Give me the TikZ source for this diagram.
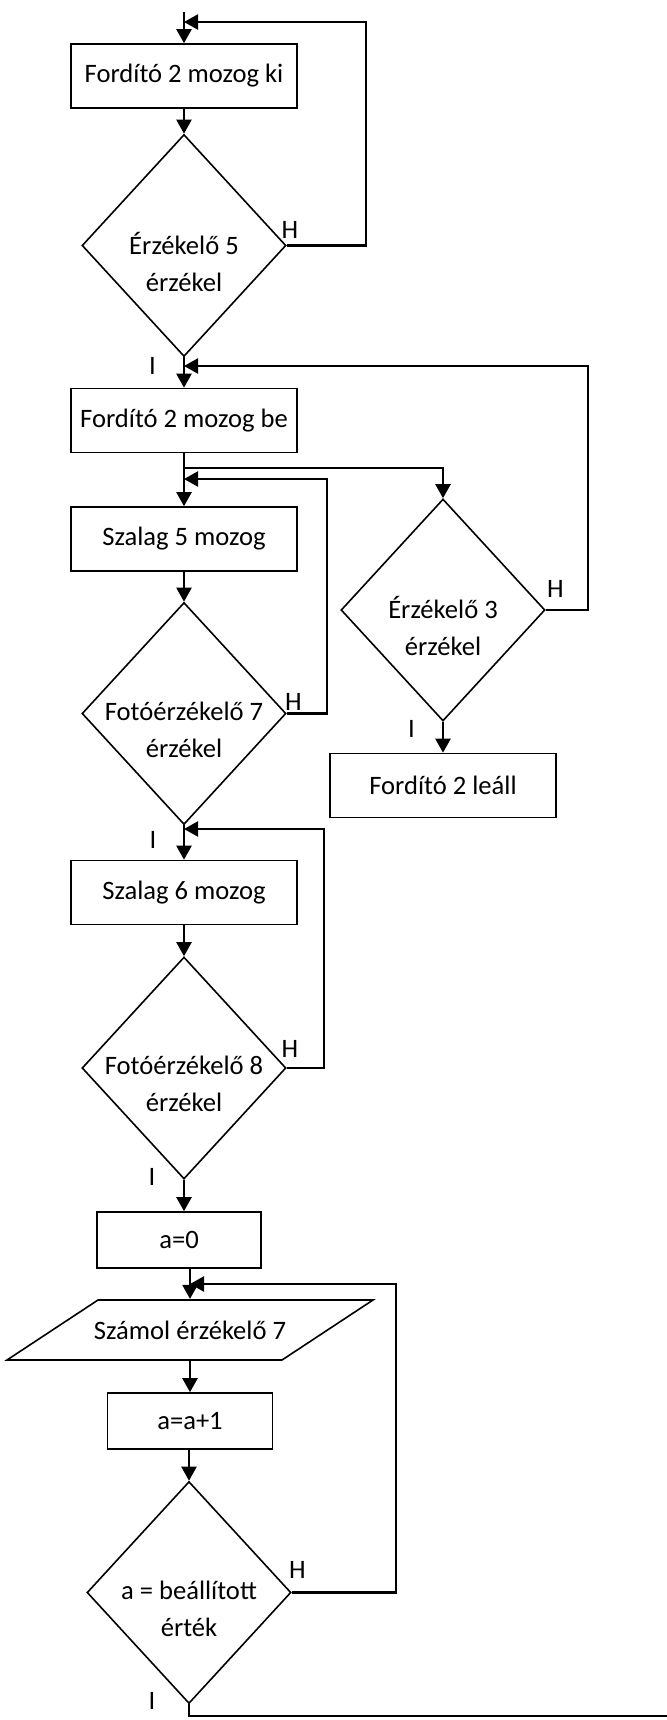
\documentclass[tikz,border=0pt]{standalone}
\usepackage{fontspec}
\setmainfont{Carlito}
\usetikzlibrary{arrows.meta,shapes.geometric}

\begin{document}
\begin{tikzpicture}[x=0.5pt,y=-0.5pt,->,>={Triangle[length=7pt,width=7.5pt]},
  line width=1.1pt,
  proc node/.style={rectangle,draw,line width=0.8pt,minimum width=113pt,minimum height=32pt,
    inner sep=0pt,font=\fontsize{13.3pt}{18.5pt}\selectfont},
  dec node/.style={diamond,draw,line width=0.8pt,minimum width=102pt,minimum height=111pt,inner sep=0pt},
  dec text/.style={align=center,yshift=-8pt,font=\fontsize{13.3pt}{18.5pt}\selectfont},
  io node/.style={rectangle,minimum width=137.5pt,minimum height=30pt,
    inner sep=0pt,font=\fontsize{13.3pt}{18.5pt}\selectfont},
  io border/.style={-,line width=0.8pt},
  branch/.style={inner sep=0pt,font=\fontsize{13.3pt}{18.5pt}\selectfont}]

  \useasboundingbox (0,0) rectangle (667,1720);

  % main column
  \node[proc node] (b1) at (184,76) {Fordító 2 mozog ki};
  \node[dec node,label={[dec text]center:Érzékelő 5\\érzékel}] (d1) at (184,245.5) {};
  \node[proc node] (b2) at (184,420.5) {Fordító 2 mozog be};
  \node[proc node] (b3) at (184,539) {Szalag 5 mozog};
  \node[dec node,label={[dec text]center:Fotóérzékelő 7\\érzékel}] (d2) at (184,713.5) {};
  \node[proc node] (b5) at (184,892.5) {Szalag 6 mozog};
  \node[dec node,label={[dec text]center:Fotóérzékelő 8\\érzékel}] (d4) at (184,1068) {};
  \node[proc node,minimum width=82pt,minimum height=28pt] (b6) at (179,1240) {a=0};
  \node[io node] (p1) at (190,1330) {Számol érzékelő 7};
  \node[proc node,minimum width=82.5pt,minimum height=28pt] (b7) at (190,1421) {a=a+1};
  \node[dec node,label={[dec text]center:a = beállított\\érték}] (d5) at (189,1592.5) {};

  % slanted input box
  \draw[io border] ([shift={(-91.5pt,-15pt)}]p1.center) -- ([shift={(46pt,-15pt)}]p1.center)
    -- ([shift={(91.5pt,15pt)}]p1.center) -- ([shift={(-46pt,15pt)}]p1.center) -- cycle;

  % side branch
  \node[dec node,label={[dec text]center:Érzékelő 3\\érzékel}] (d3) at (443,610) {};
  \node[proc node] (b4) at (443,785.5) {Fordító 2 leáll};

  % yes / no marks
  \node[branch,anchor=south] (h1) at (290,240) {H};
  \node[branch,anchor=south] (h2) at (293.5,712) {H};
  \node[branch,anchor=south] (h3) at (555.5,599) {H};
  \node[branch,anchor=south] (h4) at (290,1059) {H};
  \node[branch,anchor=south] (h5) at (297.5,1580) {H};
  \node[branch,anchor=north] (i1) at (152.5,356) {I};
  \node[branch,anchor=north] (i2) at (411.5,719) {I};
  \node[branch,anchor=north] (i3) at (153,830) {I};
  \node[branch,anchor=north] (i4) at (152,1167) {I};
  \node[branch,anchor=north] (i5) at (152,1691) {I};

  \coordinate (start) at (184,12);
  \coordinate (j1) at (184,22);
  \coordinate (j2) at (184,366);
  \coordinate (j3) at (184,479);
  \coordinate (j4) at (184,829);
  \coordinate (j5) at (190,1284);
  \coordinate (stop) at (667,1716);

  \path
    (start) edge (b1)
    (b1) edge (d1)
    (d1) edge (b2)
    (b2) edge (b3)
    (b3) edge (d2)
    (d2) edge (b5)
    (b5) edge (d4)
    (d3) edge (b4)
    (p1) edge (b7)
    ;

  \draw (d4.south) -- (d4.south |- b6.north);
  \draw (b6.south -| p1.north) -- (p1.north);
  \draw (b7.south -| d5.north) -- (d5.north);
  \draw (b2.south) ++(0,15) -| (d3.north);

  % loops back on H
  \draw (d1.east) -- ++(79,0) |- (j1);
  \draw (d3.east) -- ++(42,0) |- (j2);
  \draw (d2.east) -- ++(40,0) |- (j3);
  \draw (d4.east) -- ++(37,0) |- (j4);
  \draw (d5.east) -- ++(104,0) |- (j5);
  \draw[-] (d5.south) |- (stop);

\end{tikzpicture}
\end{document}
